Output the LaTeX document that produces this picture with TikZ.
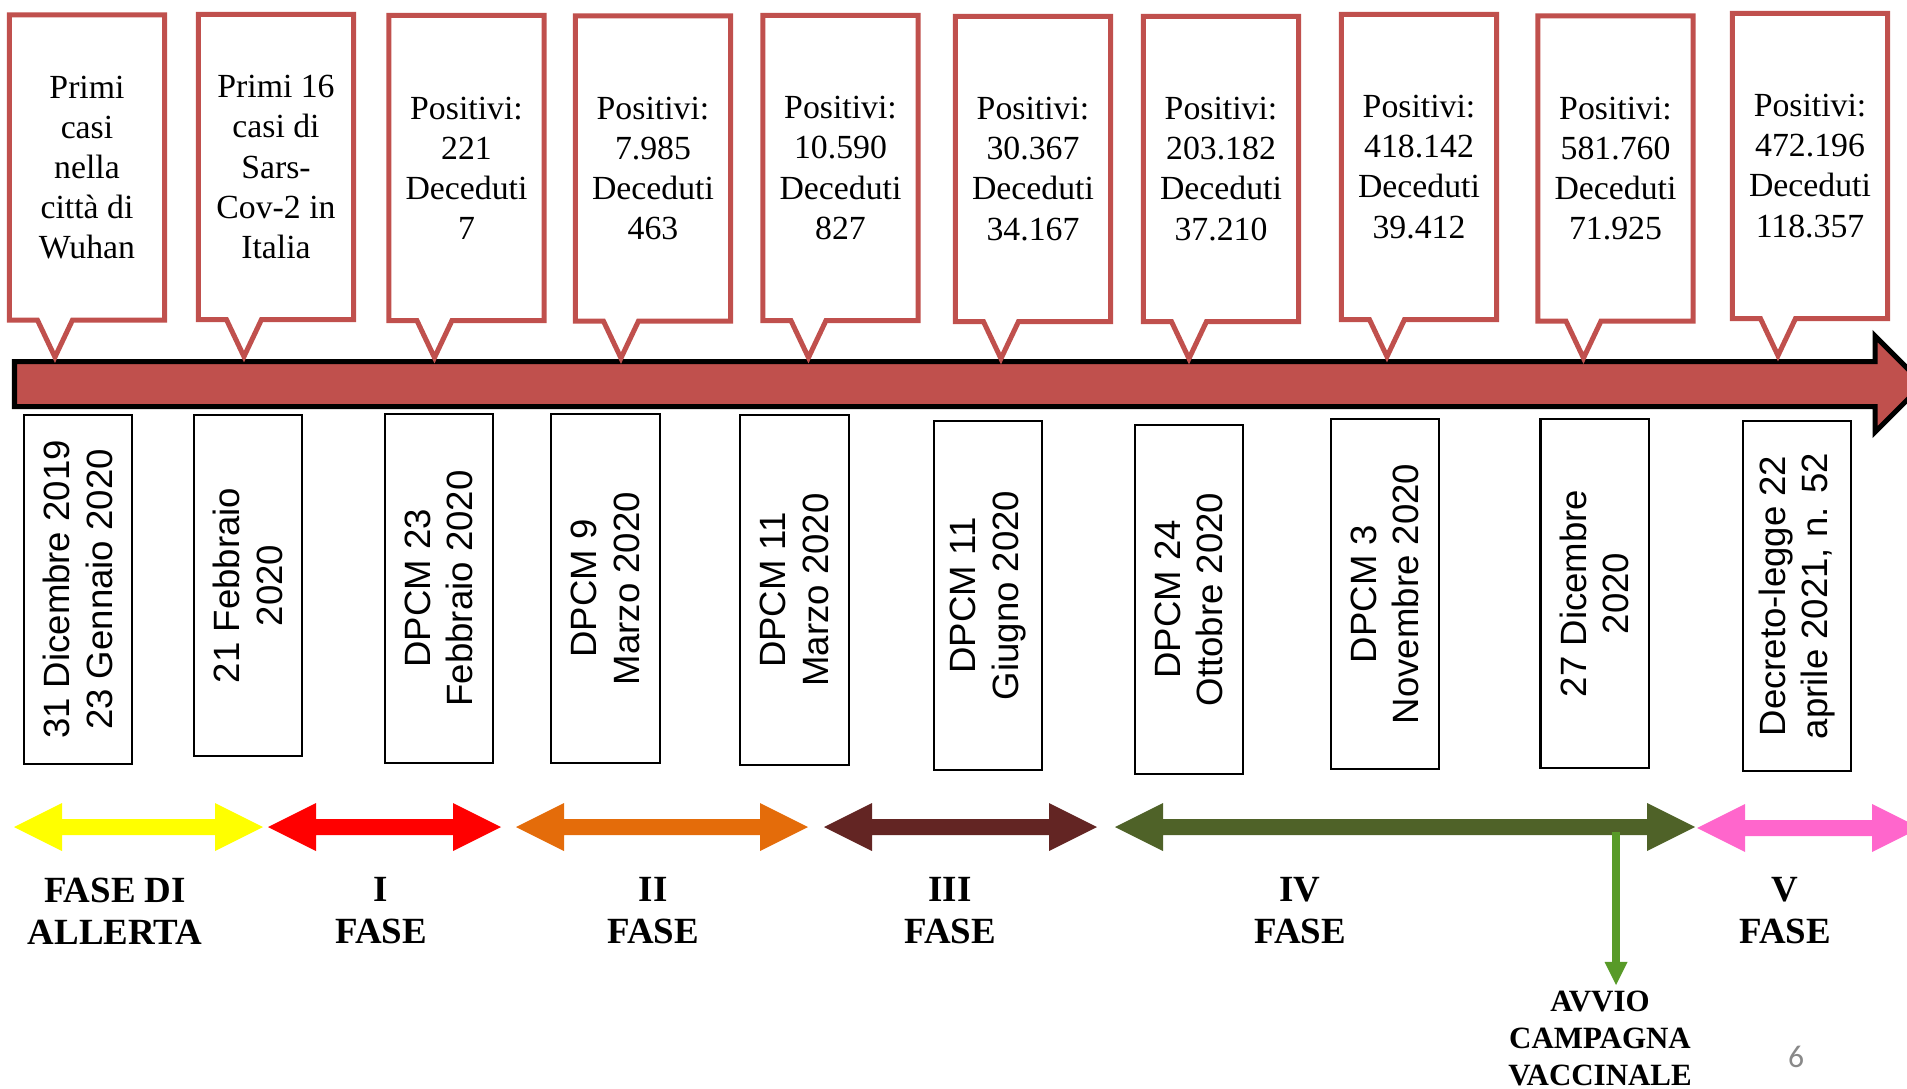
\documentclass[tikz,border=0pt]{standalone}
\usepackage{fontspec}
\setmainfont{Liberation Serif}
\setsansfont{Liberation Sans}
\newfontfamily\numfont{Carlito}
\usepackage{xcolor}
\usepackage{tikz}
\usetikzlibrary{arrows.meta, calc}

\definecolor{bubblered}{RGB}{192,80,77}
\definecolor{fasegiallo}{RGB}{255,255,0}
\definecolor{faserosso}{RGB}{255,0,0}
\definecolor{fasearancio}{RGB}{228,108,10}
\definecolor{fasebordeaux}{RGB}{99,37,35}
\definecolor{faseoliva}{RGB}{79,98,40}
\definecolor{faserosa}{RGB}{255,102,204}
\definecolor{vaccgreen}{RGB}{88,154,40}
\definecolor{pagegray}{RGB}{137,137,137}
\newcommand{\fasearrow}[3]{\fill[#3] (#1) -- ++(48,-24) -- ++(0,16) -- ($(#2)+(-48,-8)$) -- ++(0,-16) -- (#2) -- ++(-48,24) -- ++(0,-16) -- ($(#1)+(48,8)$) -- ++(0,16) -- cycle;}

\begin{document}
\begin{tikzpicture}[
    x=0.01cm, y=-0.01cm,
    bubble/.style={align=center, minimum width=1.55cm, minimum height=3.05cm, inner sep=0pt, outer sep=0pt, font=\fontsize{9.6}{11.4}\selectfont},
    bubbleline/.style={draw=bubblered, line width=0.05cm},
    datebox/.style={draw, line width=0.02cm, rotate=90, align=center, minimum width=3.49cm, minimum height=1.08cm, inner sep=0pt, font=\sffamily\fontsize{10.4}{12.1}\selectfont},
    faselabel/.style={align=center, inner sep=0pt, font=\bfseries\fontsize{10.5}{11.9}\selectfont},
    arrow/.style={-{Triangle[length=0.23cm, width=0.23cm, line width=0pt]}, line width=0.08cm, draw=vaccgreen}
]
\useasboundingbox (0,0) rectangle (1907,1088);
\clip (0,0) rectangle (1907,1088);

% timeline
\draw[line width=0.05cm, fill=bubblered] (14.5,361.5) -- (1875,361.5) -- (1875,336) -- (1923,384) -- (1875,432) -- (1875,406.5) -- (14.5,406.5) -- cycle;

% events above the timeline
\node[bubble] (c1) at (87,167.5) {Primi\\casi\\nella\\città di\\Wuhan};
\node[bubble] (c2) at (276,167) {Primi 16\\casi di\\Sars-\\Cov-2 in\\Italia};
\node[bubble] (c3) at (466.5,168) {Positivi:\\221\\Deceduti\\7};
\node[bubble] (c4) at (653,168.5) {Positivi:\\7.985\\Deceduti\\463};
\node[bubble] (c5) at (840.5,168) {Positivi:\\10.590\\Deceduti\\827};
\node[bubble] (c6) at (1033,169) {Positivi:\\30.367\\Deceduti\\34.167};
\node[bubble] (c7) at (1221,169) {Positivi:\\203.182\\Deceduti\\37.210};
\node[bubble] (c8) at (1419,167) {Positivi:\\418.142\\Deceduti\\39.412};
\node[bubble] (c9) at (1615.5,168.5) {Positivi:\\581.760\\Deceduti\\71.925};
\node[bubble] (c10) at (1810,166) {Positivi:\\472.196\\Deceduti\\118.357};
\foreach \i in {1,...,10}
    \draw[bubbleline] (c\i.south west) -- (c\i.north west) -- (c\i.north east) -- (c\i.south east) -- ($(c\i.south west)+(63,0)$) -- ($(c\i.south west)+(45.5,37)$) -- ($(c\i.south west)+(28,0)$) -- cycle;

% dates below the timeline
\node[datebox] (d1) at (78,589.5) {31 Dicembre 2019\\23 Gennaio 2020};
\node[datebox, minimum width=3.41cm] (d2) at (248,585.5) {21 Febbraio\\2020};
\node[datebox] (d3) at (439,588.5) {DPCM 23\\Febbraio 2020};
\node[datebox] (d4) at (605.5,588.5) {DPCM 9\\Marzo 2020};
\node[datebox] (d5) at (794.5,590) {DPCM 11\\Marzo 2020};
\node[datebox] (d6) at (988,595.5) {DPCM 11\\Giugno 2020};
\node[datebox] (d7) at (1189,599.5) {DPCM 24\\Ottobre 2020};
\node[datebox] (d8) at (1385,594) {DPCM 3\\Novembre 2020};
\node[datebox] (d9) at (1594.5,593.5) {27 Dicembre\\2020};
\node[datebox] (d10) at (1797,596) {Decreto-legge 22\\aprile 2021, n. 52};

% phases
\coordinate (y1) at (14,827);   \coordinate (y2) at (263,827);
\coordinate (r1) at (268,827);  \coordinate (r2) at (501,827);
\coordinate (o1) at (516,827);  \coordinate (o2) at (808,827);
\coordinate (m1) at (824,827);  \coordinate (m2) at (1097,827);
\coordinate (v1) at (1115,827); \coordinate (v2) at (1695,827);
\coordinate (p1) at (1697,828); \coordinate (p2) at (1920,828);
\fasearrow{y1}{y2}{fasegiallo}
\fasearrow{r1}{r2}{faserosso}
\fasearrow{o1}{o2}{fasearancio}
\fasearrow{m1}{m2}{fasebordeaux}
\fasearrow{v1}{v2}{faseoliva}
\fasearrow{p1}{p2}{faserosa}

\node[faselabel] (fa) at (115,911) {FASE DI\\ALLERTA};
\node[faselabel] (f1) at (381,911) {I\\FASE};
\node[faselabel] (f2) at (653,911) {II\\FASE};
\node[faselabel] (f3) at (950,911) {III\\FASE};
\node[faselabel] (f4) at (1300,911) {IV\\FASE};
\node[faselabel] (f5) at (1785,911) {V\\FASE};

% vaccination start
\node[faselabel, font=\bfseries\fontsize{8.8}{10.5}\selectfont, anchor=north] (avvio) at (1600,990) {AVVIO\\CAMPAGNA\\VACCINALE};
\coordinate (vacc) at (1616,832);
\draw[arrow, shorten >=0.05cm] (vacc) -- (vacc |- avvio.north);

\node[inner sep=0pt, text=pagegray, font=\numfont\fontsize{9}{10}\selectfont] (pag) at (1796,1057) {6};
\end{tikzpicture}
\end{document}
